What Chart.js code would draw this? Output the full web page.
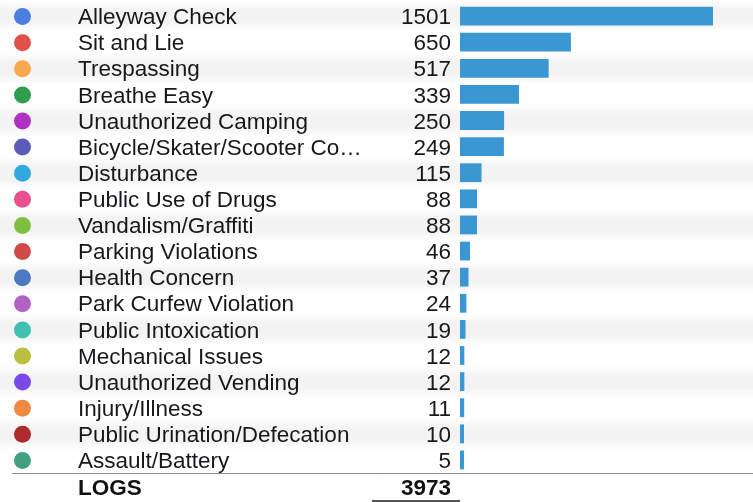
<!DOCTYPE html>
<html>
<head>
<meta charset="utf-8">
<title>Logs by type</title>
<script src="https://cdn.jsdelivr.net/npm/chart.js@4/dist/chart.umd.min.js"></script>
<style>
  html, body { margin:0; padding:0; background:#fff; }
  #wrap { width:753px; height:502px; position:relative; }
</style>
</head>
<body>
<div id="wrap"><canvas id="logsChart" width="753" height="502"></canvas></div>
<script>
// Log types, counts and dot colours
const categories = [
  "Alleyway Check", "Sit and Lie", "Trespassing", "Breathe Easy",
  "Unauthorized Camping", "Bicycle/Skater/Scooter Co\u2026", "Disturbance",
  "Public Use of Drugs", "Vandalism/Graffiti", "Parking Violations",
  "Health Concern", "Park Curfew Violation", "Public Intoxication",
  "Mechanical Issues", "Unauthorized Vending", "Injury/Illness",
  "Public Urination/Defecation", "Assault/Battery"
];
const counts = [1501, 650, 517, 339, 250, 249, 115, 88, 88, 46, 37, 24, 19, 12, 12, 11, 10, 5];
const dotColors = [
  "#4a7fe0", "#e0514b", "#f8a94f", "#2f9f4f", "#b030c0", "#5b5bb8",
  "#33a9e0", "#e8508f", "#80c041", "#d04a48", "#4a79c0", "#b262c2",
  "#40c0b0", "#b9c040", "#7a4ae8", "#f08a42", "#ae2a2c", "#42a07f"
];
const totalLabel = "LOGS";
// bars grow from a little below zero so even small counts show a stub
const barBase = -14;

const FONT = "22.5px 'Liberation Sans', Arial, sans-serif";
const FONT_BOLD = "bold 22.5px 'Liberation Sans', Arial, sans-serif";
const TEXT = "#18181c";

function total(arr){ return arr.reduce((a,b)=>a+b, 0); }

// stripes behind every other row
const stripes = {
  id: "stripes",
  beforeDatasetsDraw(chart){
    const {ctx, scales:{y}} = chart;
    const band = y.getPixelForValue(1) - y.getPixelForValue(0);
    ctx.save();
    ctx.filter = "blur(3px)";
    ctx.fillStyle = "#f3f3f3";
    categories.forEach((c,i)=>{
      if (i % 2) return;
      const cy = y.getPixelForValue(i);
      ctx.fillRect(-10, cy - band/2 + 2, chart.width + 20, band - 4);
    });
    ctx.restore();
  }
};

// dots, names, counts and the total row
const rowText = {
  id: "rowText",
  afterDatasetsDraw(chart){
    const {ctx, chartArea, scales:{y}} = chart;
    ctx.save();
    ctx.textBaseline = "middle";
    categories.forEach((c,i)=>{
      const cy = y.getPixelForValue(i);
      ctx.fillStyle = dotColors[i];
      ctx.beginPath();
      ctx.arc(22.5, cy + 0.5, 8.5, 0, Math.PI*2);
      ctx.fill();

      ctx.fillStyle = TEXT;
      ctx.font = FONT;
      ctx.textAlign = "left";
      ctx.fillText(c, 78, cy + 2);
      ctx.textAlign = "right";
      ctx.fillText(String(counts[i]), 451, cy + 2);
    });

    // total line + label
    const lineY = chartArea.bottom + 0.5;
    ctx.strokeStyle = "#8a8a8a";
    ctx.lineWidth = 1;
    ctx.beginPath();
    ctx.moveTo(12, lineY);
    ctx.lineTo(chart.width, lineY);
    ctx.stroke();

    ctx.font = FONT_BOLD;
    ctx.fillStyle = "#111";
    ctx.textAlign = "left";
    ctx.fillText(totalLabel, 78, lineY + 15);
    ctx.textAlign = "right";
    ctx.fillText(String(total(counts)), 451, lineY + 15);

    ctx.strokeStyle = "#555";
    ctx.lineWidth = 2;
    ctx.beginPath();
    ctx.moveTo(372, 501);
    ctx.lineTo(460, 501);
    ctx.stroke();
    ctx.restore();
  }
};

new Chart(document.getElementById("logsChart"), {
  type: "bar",
  data: {
    labels: categories,
    datasets: [{
      data: counts,
      base: barBase,
      backgroundColor: "#3a97d2",
      borderWidth: 0,
      barPercentage: 0.72,
      categoryPercentage: 1,
      minBarLength: 4,
    }]
  },
  options: {
    indexAxis: "y",
    responsive: false,
    animation: false,
    layout: { padding: { left: 460, right: 40, top: 3, bottom: 29 } },
    plugins: { legend: { display: false }, tooltip: { enabled: false } },
    scales: {
      x: { display: false, min: barBase, max: Math.max(...counts) },
      y: { display: false }
    }
  },
  plugins: [stripes, rowText]
});
</script>
</body>
</html>
